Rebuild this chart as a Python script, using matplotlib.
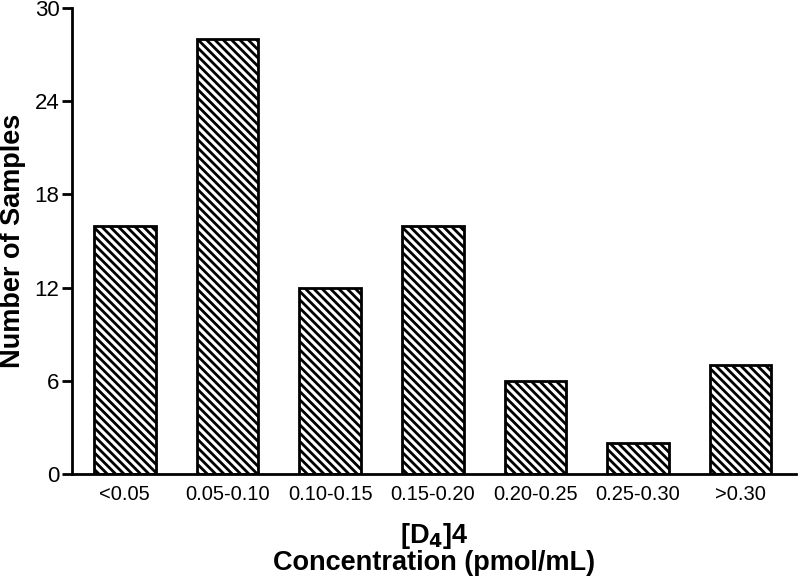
import matplotlib
matplotlib.use('Agg')
import matplotlib.pyplot as plt

categories = ['<0.05', '0.05-0.10', '0.10-0.15', '0.15-0.20', '0.20-0.25', '0.25-0.30', '>0.30']
counts = [16, 28, 12, 16, 6, 2, 7]
yticks = [0, 6, 12, 18, 24, 30]

plt.rcParams['font.family'] = ['Liberation Sans', 'DejaVu Sans']
plt.rcParams['hatch.linewidth'] = 2.0

fig = plt.figure(figsize=(8, 5.76), dpi=100)
ax = fig.add_axes([0.09, 0.177, 0.905, 0.809])

x = list(range(len(categories)))
ax.bar(x, counts, width=0.6, color='white', edgecolor='black', linewidth=2, hatch='\\\\\\\\')

ax.set_xlim(-0.515, 6.54)
ax.set_ylim(0, 30)
ax.set_yticks(yticks)
ax.set_xticks(x)
ax.set_xticklabels(categories)
ax.tick_params(axis='x', length=0, pad=8, labelsize=14.5)
ax.tick_params(axis='y', length=7, width=2, labelsize=16, direction='out', pad=2)
for s in ['top', 'right']:
    ax.spines[s].set_visible(False)
for s in ['left', 'bottom']:
    ax.spines[s].set_linewidth(2)

ax.set_ylabel('Number of Samples', fontsize=19.5, fontweight='bold', labelpad=6)
ax.set_xlabel('[D$_\\mathbf{4}$]4\nConcentration (pmol/mL)', fontsize=19.5, fontweight='bold',
              labelpad=12, linespacing=0.95)

fig.savefig('out.png', dpi=100)
